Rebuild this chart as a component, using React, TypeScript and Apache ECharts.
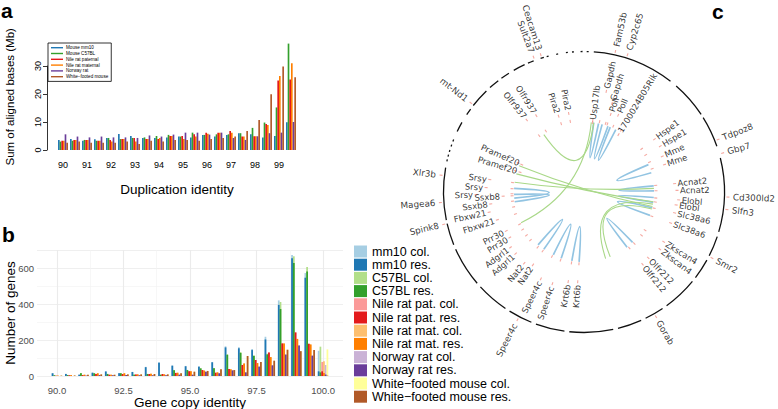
import React, { useEffect, useRef } from "react";
import * as echarts from "echarts";

// ---------------- Panel a data ----------------
const aBins = ["90","90.5","91","91.5","92","92.5","93","93.5","94","94.5","95","95.5","96","96.5","97","97.5","98","98.5","99","99.5"];
const aTickLabels = ["90","91","92","93","94","95","96","97","98","99"];
const aNames = ["Mouse mm10","Mouse C57BL","Nile rat paternal","Nile rat maternal","Norway rat","White\u2212footed mouse"];
const aMm10 = [3.6,3.9,3.3,3.8,4.3,5.7,5.0,4.3,4.3,4.5,4.8,4.5,5.4,4.8,5.4,6.0,5.6,4.5,5.0,9.9];
const aC57 = [3.0,3.3,3.6,3.3,4.3,3.9,4.3,4.5,5.0,5.4,4.8,6.2,5.4,5.6,5.6,6.0,7.9,9.8,15.2,38.0];
const aNilePat = [3.3,3.6,3.6,3.3,3.6,3.9,4.3,3.9,3.9,5.0,5.0,5.6,6.2,6.2,6.8,4.8,4.9,9.3,24.8,25.2];
const aNileMat = [3.3,3.6,3.6,3.3,3.0,3.9,3.0,3.9,4.3,5.0,3.9,4.8,5.8,6.2,6.2,4.8,4.9,8.9,26.4,31.0];
const aNorway = [5.6,4.8,4.5,4.8,4.5,4.5,4.3,5.2,4.8,5.5,6.2,6.2,5.5,6.2,4.3,3.6,4.9,6.0,6.2,10.0];
const aWfm = [2.6,3.0,2.6,2.6,2.6,3.0,2.1,3.3,3.0,3.6,3.6,3.3,3.9,4.3,4.8,6.8,10.7,19.9,29.8,26.0];
const aTicks = [0, 10, 20, 30];

// ---------------- Panel b data ----------------
const bBins = ["89.5","90.0","90.5","91.0","91.5","92.0","92.5","93.0","93.5","94.0","94.5","95.0","95.5","96.0","96.5","97.0","97.5","98.0","98.5","99.0","99.5","100.0","100.5"];
const bMajorX = [90, 92.5, 95, 97.5, 100];
const bMinorX = [91.25, 93.75, 96.25, 98.75];
// values for bins 90.0 ... 100.0
const bMm10Col = [16,12,8,19,26,16,23,51,76,59,56,54,78,165,160,150,218,420,672,572,140];
const bMm10Res = [15,11,7,18,25,15,22,49,74,57,54,52,76,159,154,144,203,395,654,546,26];
const bC57Col = [5,6,16,16,12,16,8,12,8,33,34,44,45,122,133,115,124,411,665,606,163];
const bC57Res = [4,5,15,15,11,15,7,11,7,32,33,42,43,117,128,111,120,372,628,580,20];
const bPatCol = [2,4,5,11,7,11,9,11,11,17,27,33,18,39,61,89,131,181,242,179,78];
const bPatRes = [2,4,5,11,7,11,9,11,11,17,27,33,18,39,61,89,131,181,242,179,26];
const bMatCol = [2,5,7,15,7,15,9,13,9,18,27,30,20,37,70,72,105,181,206,175,82];
const bMatRes = [2,5,7,15,7,15,9,13,9,18,27,30,20,37,70,72,105,181,206,175,17];
const bNorCol = [0,0,2,5,4,5,4,4,4,7,7,24,15,31,20,52,59,119,169,113,61];
const bNorRes = [0,0,2,5,4,5,4,4,4,7,7,24,15,31,20,52,59,119,169,113,8];
const bWfmCol = [2,3,7,9,7,9,9,11,9,15,24,28,37,33,111,78,85,146,138,144,148];
const bWfmRes = [2,3,7,9,7,9,9,11,9,15,24,28,37,33,111,78,85,146,138,144,2];
const bColNames = ["mm10 col.","C57BL col.","Nile rat pat. col.","Nile rat mat. col.","Norway rat col.","White\u2212footed mouse col."];
const bResNames = ["mm10 res.","C57BL res.","Nile rat pat. res.","Nile rat mat. res.","Norway rat res.","White\u2212footed mouse res."];

// ---------------- Panel c data (angles in degrees, 0 = right, counter-clockwise) ----------------
const ringArcs = [
  [86,52],[49,33.5],[32,19],[14,-16.5],[-18.5,-27],[-29,-37.5],[-39.5,-54],[-56,-64],[-66,-76],[-78,-96],
  [-98,-110],[-112,-122],[-124,-137.5],[-139.5,-156],[-158,-167],[-168.5,-190],
  [167.4,166.6],[165.4,164.6],[163.4,162.6],[161.1,160.3],[158.9,158.1],
  [154.5,150.3],[146.6,143.8],[142,134],[132,127.6],[126,122.3],[120,115],[113.5,111],[108,106.6],
  [105.4,104.6],[101.4,100.6],[97.4,96.6],[94.9,94.1],[91.4,90.6],[88.9,88.1],
];
const outerNames = ["Ceacam13","Sult2a7","Fam53b","Cyp2c65","Tdpoz8","Gbp7","Cd300ld2","Slfn3","Smr2","Gorab","Speer4c","Spink8","Magea6","Xlr3b","mt-Nd1"];
const outerAngles = [107.5,110.5,77.4,72.4,21.4,15.7,-2,-7,-27.3,-60,-117.5,193,184.2,173.3,141.8];
const innerNames = ["Usp17lb","Gapdh","Gapdh","Poll","Poll","1700024B05Rik","Hspe1","Hspe1","Mme","Mme","Acnat2","Acnat2","Elobl","Elobl","Slc38a6","Slc38a6","Zkscan4","Zkscan4","Olfr212","Olfr212","Krt6b","Krt6b","Speer4c","Speer4c","Nat2","Nat2","Adgrl1","Adgrl1","Prr30","Prr30","Fbxw21","Fbxw21","Ssxb8","Ssxb8","Srsy","Srsy","Srsy","Pramef20","Pramef20","Olfr937","Olfr937","Pira2","Pira2"];
const innerAngles = [83,77.5,72.5,71,66,59,36.8,31,24.5,18.8,5.3,1,-4.8,-8,-13,-19.7,-32,-37,-45.7,-51,266,260,251,243.6,235,230,222,217,211.5,206.6,197.8,192,187.3,183,181.4,177.4,172.5,162.8,156.2,128.5,122,108.5,101];
// layout: radius of the inner end of each inner label
const innerLabelR = [73,106,96,85,87,70,91,92,89,88,94,96,98,96,96,95,97,98,95,96,93,94,100,100,92,96,95,95,90,90,94,100,97,84,111,101,98,70,71,95,93,83,83];
const blueLinks = [[82,78],[75,70],[68,63],[23,16],[5,1],[-4.5,-8.5],[-13,-19.5],[-46,-52],[177,185],[182,188],[229,235],[244,251],[260,266]];
const greenLinks = [[125,82],[84,206],[158,-12],[165,-8],[172,3],[-10,-72],[-14,-68]];

const RING_R = 140.5;
const LINK_R = 70;
const ANCHOR_R = 72;
const OUTER_TICK_R = 144;
const OUTER_LABEL_R = 149;

const deg = Math.PI / 180;
const norm = (a: number) => ((a % 360) + 360) % 360;
const labelRot = (a: number) => {
  const n = norm(a);
  const right = Math.cos(n * deg) >= 0;
  const rotate = right ? (n > 180 ? n - 360 : n) : n - 180;
  return { rotate, right };
};

const SANS = "Liberation Sans, Arial, Helvetica, sans-serif";
const DEJA = "DejaVu Sans, Verdana, sans-serif";
const aColors = ["#1F78B4","#33A02C","#E31A1C","#FF7F00","#6A3D9A","#B15928"];
const bColColors = ["#A6CEE3","#B2DF8A","#FB9A99","#FDBF6F","#CAB2D6","#FFFF99"];
const bResColors = ["#1F78B4","#33A02C","#E31A1C","#FF7F00","#6A3D9A","#B15928"];
const TICK_COLOR = "#f3948a";

function buildOption() {
  const aSeriesData = [aMm10, aC57, aNilePat, aNileMat, aNorway, aWfm];
  const bCol = [bMm10Col, bC57Col, bPatCol, bMatCol, bNorCol, bWfmCol];
  const bRes = [bMm10Res, bC57Res, bPatRes, bMatRes, bNorRes, bWfmRes];
  const pad = (arr: number[]) => [null, ...arr, null];

  const gridPoints: string[] = [];
  for (let i = 0; i <= 46; i++) gridPoints.push((89.25 + 0.25 * i).toFixed(2));

  const series: any[] = [];
  aNames.forEach((name, i) => {
    series.push({
      type: "bar", name, xAxisIndex: 0, yAxisIndex: 0, data: aSeriesData[i],
      itemStyle: { color: aColors[i] }, barGap: "0%", barCategoryGap: "17%", silent: true,
    });
  });
  bColNames.forEach((name, i) => {
    series.push({
      type: "bar", name, xAxisIndex: 2, yAxisIndex: 2, data: pad(bCol[i]),
      itemStyle: { color: bColColors[i] }, barGap: "0%", barCategoryGap: "21%", silent: true,
    });
  });
  bResNames.forEach((name, i) => {
    series.push({
      type: "bar", name, xAxisIndex: 3, yAxisIndex: 2, data: pad(bRes[i]),
      itemStyle: { color: bResColors[i] }, barGap: "0%", barCategoryGap: "21%", silent: true,
    });
  });

  // ring
  series.push({
    type: "custom", coordinateSystem: "polar", silent: true, clip: false,
    data: ringArcs.map(([s, e]) => [RING_R, s, e]),
    renderItem: (params: any, api: any) => {
      const cs = params.coordSys;
      const p = api.coord([api.value(0), 0]);
      const r = Math.hypot(p[0] - cs.cx, p[1] - cs.cy);
      return {
        type: "arc",
        shape: { cx: cs.cx, cy: cs.cy, r, startAngle: -api.value(1) * deg, endAngle: -api.value(2) * deg, clockwise: true },
        style: { stroke: "#111", lineWidth: 1.3, fill: "none" },
      };
    },
  });
  const linkSeries = (links: number[][], color: string, width: number) => ({
    type: "custom", coordinateSystem: "polar", silent: true, clip: false,
    data: links.map(([a1, a2]) => [LINK_R, norm(a1), norm(a2)]),
    renderItem: (params: any, api: any) => {
      const cs = params.coordSys;
      const p1 = api.coord([api.value(0), api.value(1)]);
      const p2 = api.coord([api.value(0), api.value(2)]);
      return {
        type: "bezierCurve",
        shape: { x1: p1[0], y1: p1[1], x2: p2[0], y2: p2[1], cpx1: cs.cx, cpy1: cs.cy },
        style: { stroke: color, lineWidth: width, fill: "none" },
      };
    },
  });
  series.push(linkSeries(blueLinks, "#92c4e2", 1.7));
  series.push(linkSeries(greenLinks, "#a9d888", 1.1));

  // ticks
  const tickData: any[] = [];
  innerAngles.forEach((a, i) => {
    tickData.push({ value: [ANCHOR_R, norm(a)], symbolRotate: a });
    tickData.push({ value: [innerLabelR[i] - 3, norm(a)], symbolRotate: a });
  });
  outerAngles.forEach((a) => tickData.push({ value: [OUTER_TICK_R, norm(a)], symbolRotate: a }));
  series.push({
    type: "scatter", coordinateSystem: "polar", silent: true, clip: false,
    symbol: "rect", symbolSize: [3, 1.1], itemStyle: { color: TICK_COLOR }, data: tickData,
  });

  // labels
  const innerLabelData = innerNames.map((name, i) => {
    const { rotate, right } = labelRot(innerAngles[i]);
    return { name, value: [innerLabelR[i], norm(innerAngles[i])], label: { rotate, align: right ? "left" : "right" } };
  });
  const outerLabelData = outerNames.map((name, i) => {
    const { rotate, right } = labelRot(outerAngles[i]);
    return { name, value: [OUTER_LABEL_R, norm(outerAngles[i])], label: { rotate, align: right ? "left" : "right" } };
  });
  const labelSeries = (data: any[], size: number) => ({
    type: "scatter", coordinateSystem: "polar", silent: true, clip: false,
    symbolSize: 0.01, itemStyle: { color: "rgba(0,0,0,0)" }, data,
    label: { show: true, formatter: "{b}", position: "inside", fontSize: size, fontFamily: DEJA, color: "#000", verticalAlign: "middle" },
  });
  series.push(labelSeries(innerLabelData, 8.5));
  series.push(labelSeries(outerLabelData, 8.8));

  return {
    animation: false,
    backgroundColor: "#fff",
    textStyle: { fontFamily: SANS },
    grid: [
      { left: 57, top: 43.6, width: 240, height: 106.4, outerBoundsMode: "none" },
      { left: 47, top: 66, width: 1, height: 84, outerBoundsMode: "none" },
      { left: 37, top: 250, width: 306, height: 126, outerBoundsMode: "none" },
    ],
    xAxis: [
      {
        type: "category", gridIndex: 0, data: aBins, position: "bottom",
        axisLine: { show: false }, axisTick: { show: false },
        axisLabel: { interval: (i: number, v: string) => aTickLabels.includes(v), fontSize: 9, color: "#000", margin: 10.5, fontFamily: SANS },
        name: "Duplication identity", nameLocation: "middle", nameGap: 32, nameMoveOverlap: false,
        nameTextStyle: { fontSize: 13.5, color: "#000", fontFamily: SANS },
      },
      { type: "value", gridIndex: 1, show: false, min: 0, max: 1, position: "bottom" },
      { type: "category", gridIndex: 2, data: bBins, show: false, position: "bottom" },
      { type: "category", gridIndex: 2, data: bBins, show: false, position: "bottom" },
      {
        type: "category", gridIndex: 2, data: gridPoints, boundaryGap: false, position: "bottom",
        axisLine: { show: false }, axisTick: { show: false },
        axisLabel: {
          interval: (i: number, v: string) => bMajorX.includes(Number(v)),
          formatter: (v: string) => Number(v).toFixed(1),
          fontSize: 9.5, color: "#4d4d4d", margin: 9, fontFamily: SANS,
        },
        splitLine: { show: true, interval: (i: number, v: string) => bMajorX.includes(Number(v)), lineStyle: { color: "#ebebeb", width: 1.1 } },
        name: "Gene copy identity", nameLocation: "middle", nameGap: 19, nameMoveOverlap: false,
        nameTextStyle: { fontSize: 13.5, color: "#000", fontFamily: SANS },
      },
      {
        type: "category", gridIndex: 2, data: gridPoints, boundaryGap: false, position: "bottom",
        axisLine: { show: false }, axisTick: { show: false }, axisLabel: { show: false },
        splitLine: { show: true, interval: (i: number, v: string) => bMinorX.includes(Number(v)), lineStyle: { color: "#f1f1f1", width: 0.6 } },
      },
    ],
    yAxis: [
      {
        type: "value", gridIndex: 0, min: 0, max: 38,
        axisLine: { show: false }, axisTick: { show: false }, axisLabel: { show: false }, splitLine: { show: false },
        name: "Sum of aligned bases (Mb)", nameLocation: "middle", nameRotate: 90, nameGap: 41, nameMoveOverlap: false,
        nameTextStyle: { fontSize: 11.5, color: "#000", fontFamily: SANS },
      },
      {
        type: "value", gridIndex: 1, min: aTicks[0], max: aTicks[aTicks.length - 1], interval: 10,
        axisLine: { show: true, lineStyle: { color: "#000", width: 0.8 } },
        axisTick: { show: true, length: 4, lineStyle: { color: "#000", width: 0.8 } },
        axisLabel: { rotate: 90, fontSize: 9, color: "#000", margin: 5, fontFamily: SANS },
        splitLine: { show: false },
      },
      {
        type: "value", gridIndex: 2, min: 0, max: 700, interval: 200, position: "left",
        axisLine: { show: false }, axisTick: { show: false },
        axisLabel: { showMaxLabel: false, fontSize: 9.5, color: "#4d4d4d", margin: 3, fontFamily: SANS },
        splitLine: { show: true, lineStyle: { color: "#ebebeb", width: 1.1 } },
        name: "Number of genes", nameLocation: "middle", nameRotate: 90, nameGap: 20, nameMoveOverlap: false,
        nameTextStyle: { fontSize: 13.5, color: "#000", fontFamily: SANS },
      },
      {
        type: "value", gridIndex: 2, min: 0, max: 700, interval: 100, position: "left",
        axisLine: { show: false }, axisTick: { show: false }, axisLabel: { show: false },
        splitLine: { show: true, lineStyle: { color: "#f1f1f1", width: 0.6 } },
      },
    ],
    polar: { center: [584, 192], radius: 160 },
    angleAxis: { type: "value", min: 0, max: 360, startAngle: 0, clockwise: false, show: false },
    radiusAxis: { type: "value", min: 0, max: 160, show: false },
    legend: [
      {
        data: aNames, orient: "vertical", left: 48, top: 43, padding: [2, 3], itemGap: 0.4,
        itemWidth: 12, itemHeight: 1.4, icon: "rect", selectedMode: false,
        borderColor: "#000", borderWidth: 0.8,
        textStyle: { fontSize: 4.6, lineHeight: 5.4, color: "#000", fontFamily: SANS, padding: [0, 0, 0, -2] },
      },
      {
        data: [
          bColNames[0], bResNames[0], bColNames[1], bResNames[1], bColNames[2], bResNames[2],
          bColNames[3], bResNames[3], bColNames[4], bResNames[4], bColNames[5], bResNames[5],
        ],
        orient: "vertical", left: 354, top: 245, height: 200, padding: 0, itemGap: 0.2,
        itemWidth: 13, itemHeight: 12, icon: "rect", selectedMode: false,
        textStyle: { fontSize: 12.5, lineHeight: 12, color: "#000", fontFamily: SANS },
      },
    ],
    graphic: [
      { type: "text", left: 1, top: 0, style: { text: "a", font: "bold 21px " + SANS, fill: "#000" } },
      { type: "text", left: 2, top: 224, style: { text: "b", font: "bold 21px " + SANS, fill: "#000" } },
      { type: "text", left: 712, top: 1, style: { text: "c", font: "bold 21px " + SANS, fill: "#000" } },
    ],
    series,
  };
}

export default function App() {
  const ref = useRef<HTMLDivElement>(null);
  useEffect(() => {
    document.body.style.margin = "0";
    const chart = echarts.init(ref.current!, null, { renderer: "svg" });
    chart.setOption(buildOption() as any);
    return () => chart.dispose();
  }, []);
  return <div ref={ref} style={{ width: 778, height: 409 }} />;
}
